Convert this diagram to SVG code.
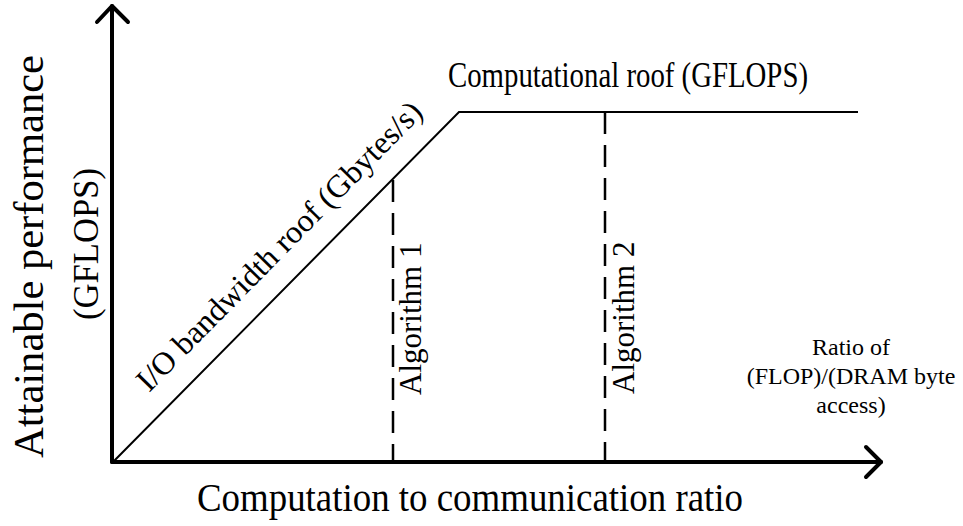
<svg xmlns="http://www.w3.org/2000/svg" width="963" height="526" viewBox="0 0 963 526">
<style>
.t{font-family:"Liberation Serif","Times New Roman",serif;fill:#000}
.axis{stroke:#000;stroke-width:4;fill:none;stroke-linecap:round;stroke-linejoin:round}
.roof{stroke:#000;stroke-width:2;fill:none}
.dash{stroke:#000;stroke-width:2.5;fill:none;stroke-dasharray:22 11}
</style>
<rect width="963" height="526" fill="#fff"/>
<g id="connectors">
<path class="axis" d="M112,462 L112,6"/>
<path class="axis" d="M97,22 L112,6 L128,22"/>
<path class="axis" d="M112,462 L881,462"/>
<path class="axis" d="M866,447 L881,462 L866,477"/>
<path class="roof" d="M113,462 L459,112 L858,112"/>
<path class="dash" d="M393,180 L393,462"/>
<path class="dash" d="M605,112 L605,462"/>
</g>
<g id="y-label">
<text class="t" font-size="42" transform="translate(43,458) rotate(-90)" textLength="403" lengthAdjust="spacingAndGlyphs">Attainable performance</text>
<text class="t" font-size="36" transform="translate(98,320) rotate(-90)" textLength="152" lengthAdjust="spacingAndGlyphs">(GFLOPS)</text>
</g>
<g id="x-label">
<text class="t" font-size="40" x="197" y="511" textLength="546" lengthAdjust="spacingAndGlyphs">Computation to communication ratio</text>
</g>
<g id="comp-roof">
<text class="t" font-size="35" x="448" y="87" textLength="360" lengthAdjust="spacingAndGlyphs">Computational roof (GFLOPS)</text>
</g>
<g id="io-roof">
<text class="t" font-size="32" transform="translate(149,393) rotate(-45.4)" textLength="392" lengthAdjust="spacingAndGlyphs">I/O bandwidth roof (Gbytes/s)</text>
</g>
<g id="alg1">
<text class="t" font-size="31" transform="translate(421,395) rotate(-90)">Algorithm 1</text>
</g>
<g id="alg2">
<text class="t" font-size="31" transform="translate(634,394) rotate(-90)">Algorithm 2</text>
</g>
<g id="ratio-label" text-anchor="middle">
<text class="t" font-size="24" x="851" y="355">Ratio of</text>
<text class="t" font-size="24" x="851" y="384">(FLOP)/(DRAM byte</text>
<text class="t" font-size="24" x="851" y="413">access)</text>
</g>
</svg>
